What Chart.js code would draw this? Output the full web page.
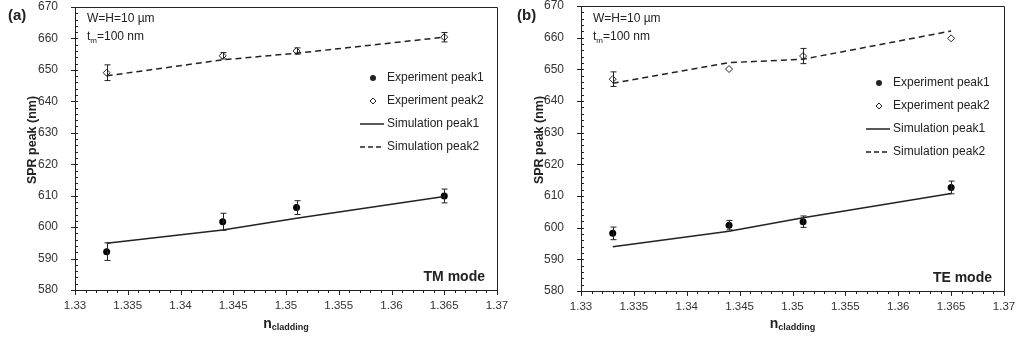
<!DOCTYPE html>
<html>
<head>
<meta charset="utf-8">
<script src="https://cdn.jsdelivr.net/npm/chart.js@4.4.1/dist/chart.umd.min.js"></script>
<style>
  body { margin: 0; background: #fff; }
  .wrap { display: flex; width: 1016px; height: 341px; }
  .panel { width: 508px; height: 341px; }
</style>
</head>
<body>
<div class="wrap">
  <div class="panel"><canvas id="chartTM" width="508" height="341"></canvas></div>
  <div class="panel"><canvas id="chartTE" width="508" height="341"></canvas></div>
</div>
<script>
// data
const nCladding = [1.333, 1.344, 1.351, 1.365];
const yTicks = [580, 590, 600, 610, 620, 630, 640, 650, 660, 670];
const xTicks = [1.33, 1.335, 1.34, 1.345, 1.35, 1.355, 1.36, 1.365, 1.37];

// (a) TM mode
const tmExpPeak1 = [592.2, 601.7, 606.2, 609.9];
const tmExpPeak1Err = [2.8, 2.7, 2.2, 2.2];
const tmExpPeak2 = [649.1, 654.5, 656.0, 660.4];
const tmExpPeak2Err = [2.5, 1.0, 1.0, 1.5];
const tmSimPeak1 = [594.9, 599.1, 602.8, 609.7];
const tmSimPeak2 = [648.1, 653.2, 655.3, 660.4];

// (b) TE mode
const teExpPeak1 = [598.2, 600.8, 601.9, 612.7];
const teExpPeak1Err = [2.0, 1.5, 1.8, 2.0];
const teExpPeak2 = [646.9, 650.1, 654.2, 659.8];
const teExpPeak2Err = [2.3, 0, 2.4, 0];
const teSimPeak1 = [594.0, 598.9, 603.1, 610.8];
const teSimPeak2 = [645.6, 652.1, 653.2, 662.1];

const FONT = "Arial, 'Liberation Sans', sans-serif";
const INK = "#222";

function pts(ys) {
    return nCladding.map((x, i) => ({ x: x, y: ys[i] }));
}

// extra drawing: frame, minor ticks, error bars, notes, legend, titles
const decorPlugin = {
    id: "decor",
    afterDraw(chart, args, opts) {
        const ctx = chart.ctx;
        const a = chart.chartArea;
        const xs = chart.scales.x;
        const ys = chart.scales.y;
        ctx.save();
        ctx.strokeStyle = INK;
        ctx.lineWidth = 1;

        // top + right frame
        ctx.beginPath();
        ctx.moveTo(a.left, a.top + 0.5);
        ctx.lineTo(a.right + 0.5, a.top + 0.5);
        ctx.lineTo(a.right + 0.5, a.bottom);
        ctx.stroke();

        // y ticks (major every 10 crossing the axis, minor every 2 inside)
        for (let v = 580; v <= 670; v += 2) {
            const py = Math.round(ys.getPixelForValue(v)) + 0.5;
            const major = v % 10 === 0;
            ctx.beginPath();
            ctx.moveTo(a.left - (major ? 4 : 0), py);
            ctx.lineTo(a.left + 3, py);
            ctx.stroke();
        }
        // x ticks (major every 0.005, minor every 0.001)
        for (let k = 0; k <= 40; k++) {
            const v = 1.33 + k * 0.001;
            const px = Math.round(xs.getPixelForValue(v)) + 0.5;
            const len = (k % 5 === 0) ? 5 : 3;
            ctx.beginPath();
            ctx.moveTo(px, a.bottom);
            ctx.lineTo(px, a.bottom + len);
            ctx.stroke();
        }

        // error bars
        opts.errors.forEach(e => {
            const ds = chart.data.datasets[e.ds];
            ds.data.forEach((p, i) => {
                const err = e.err[i];
                if (!err) return;
                const px = Math.round(xs.getPixelForValue(p.x)) + 0.5;
                const top = ys.getPixelForValue(p.y + err);
                const bot = ys.getPixelForValue(p.y - err);
                ctx.beginPath();
                ctx.moveTo(px, top);
                ctx.lineTo(px, bot);
                ctx.moveTo(px - 3, top);
                ctx.lineTo(px + 3, top);
                ctx.moveTo(px - 3, bot);
                ctx.lineTo(px + 3, bot);
                ctx.stroke();
            });
        });

        ctx.fillStyle = INK;
        ctx.textBaseline = "middle";

        // panel label
        ctx.font = "bold 15px " + FONT;
        ctx.textAlign = "left";
        ctx.fillText(opts.label, opts.labelX, 16);

        // notes top-left
        ctx.font = "12px " + FONT;
        ctx.fillText("W=H=10 \u00b5m", a.left + 12, 19);
        ctx.fillText("t", a.left + 12, 37);
        const tw = ctx.measureText("t").width;
        ctx.font = "8px " + FONT;
        ctx.fillText("m", a.left + 12 + tw, 41);
        const mw = ctx.measureText("m").width;
        ctx.font = "12px " + FONT;
        ctx.fillText("=100 nm", a.left + 12 + tw + mw, 37);

        // mode text
        ctx.font = "bold 14px " + FONT;
        ctx.textAlign = "right";
        ctx.fillText(opts.mode, a.right - 12, a.bottom - 13);

        // legend
        const lx = opts.legendX;
        ctx.font = "12px " + FONT;
        ctx.textAlign = "left";
        const names = ["Experiment peak1", "Experiment peak2", "Simulation peak1", "Simulation peak2"];
        names.forEach((name, i) => {
            const y = opts.legendY + i * 23;
            ctx.fillStyle = INK;
            if (i === 0) {
                ctx.beginPath();
                ctx.arc(lx - 14, y, 3, 0, Math.PI * 2);
                ctx.fill();
            } else if (i === 1) {
                ctx.beginPath();
                ctx.moveTo(lx - 14, y - 3);
                ctx.lineTo(lx - 11, y);
                ctx.lineTo(lx - 14, y + 3);
                ctx.lineTo(lx - 17, y);
                ctx.closePath();
                ctx.fillStyle = "#fff";
                ctx.fill();
                ctx.stroke();
                ctx.fillStyle = INK;
            } else {
                ctx.lineWidth = 1.5;
                ctx.setLineDash(i === 3 ? [5, 3] : []);
                ctx.beginPath();
                ctx.moveTo(lx - 27, y);
                ctx.lineTo(lx - 3, y);
                ctx.stroke();
                ctx.setLineDash([]);
                ctx.lineWidth = 1;
            }
            ctx.fillText(name, lx, y);
        });

        // y title
        ctx.save();
        ctx.translate(opts.yTitleX, opts.yTitleY);
        ctx.rotate(-Math.PI / 2);
        ctx.textAlign = "center";
        ctx.font = "bold 12.5px " + FONT;
        ctx.fillText("SPR peak (nm)", 0, 0);
        ctx.restore();

        // x title with subscript
        ctx.font = "bold 14px " + FONT;
        const nW = ctx.measureText("n").width;
        ctx.font = "bold 9px " + FONT;
        const sW = ctx.measureText("cladding").width;
        const cx = (a.left + a.right) / 2 - (nW + sW) / 2;
        ctx.textAlign = "left";
        ctx.font = "bold 14px " + FONT;
        ctx.fillText("n", cx, 324);
        ctx.font = "bold 9px " + FONT;
        ctx.fillText("cladding", cx + nW, 328);

        ctx.restore();
    }
};

function makeChart(id, exp1, exp1Err, exp2, exp2Err, sim1, sim2, opts) {
    return new Chart(document.getElementById(id), {
        type: "scatter",
        data: {
            datasets: [
                {
                    label: "Simulation peak1",
                    data: pts(sim1),
                    showLine: true,
                    borderColor: INK,
                    borderWidth: 1.5,
                    pointRadius: 0,
                    tension: 0
                },
                {
                    label: "Simulation peak2",
                    data: pts(sim2),
                    showLine: true,
                    borderColor: INK,
                    borderWidth: 1.5,
                    borderDash: [6, 4],
                    pointRadius: 0,
                    tension: 0
                },
                {
                    label: "Experiment peak1",
                    data: pts(exp1),
                    pointStyle: "circle",
                    pointRadius: 3.5,
                    backgroundColor: "#000",
                    borderColor: "#000",
                    borderWidth: 0
                },
                {
                    label: "Experiment peak2",
                    data: pts(exp2),
                    pointStyle: "rectRot",
                    pointRadius: 3.5,
                    backgroundColor: "#fff",
                    borderColor: INK,
                    borderWidth: 1
                }
            ]
        },
        options: {
            responsive: false,
            animation: false,
            layout: { padding: { top: opts.top, right: opts.right, left: 0, bottom: 0 } },
            plugins: {
                legend: { display: false },
                tooltip: { enabled: false },
                decor: {
                    label: opts.label,
                    labelX: opts.labelX,
                    mode: opts.mode,
                    legendX: opts.legendX,
                    legendY: opts.legendY,
                    yTitleX: opts.yTitleX,
                    yTitleY: opts.yTitleY,
                    errors: [
                        { ds: 2, err: exp1Err },
                        { ds: 3, err: exp2Err }
                    ]
                }
            },
            scales: {
                x: {
                    type: "linear",
                    min: 1.33,
                    max: 1.37,
                    afterBuildTicks: s => { s.ticks = xTicks.map(v => ({ value: v })); },
                    afterFit: s => {
                        s.height = opts.xHeight;
                        s.paddingLeft = 0;
                        s.paddingRight = 0;
                    },
                    grid: { display: false },
                    border: { display: true, color: INK, width: 1 },
                    ticks: {
                        color: "#333",
                        padding: 1,
                        font: { family: FONT, size: 11.5 },
                        callback: v => String(parseFloat(v.toFixed(3)))
                    }
                },
                y: {
                    min: 580,
                    max: 670,
                    afterBuildTicks: s => { s.ticks = yTicks.map(v => ({ value: v })); },
                    afterFit: s => {
                        s.width = opts.yWidth;
                        s.paddingTop = 0;
                        s.paddingBottom = 0;
                    },
                    grid: { display: false },
                    border: { display: true, color: INK, width: 1 },
                    ticks: {
                        color: "#333",
                        padding: 9,
                        font: { family: FONT, size: 12 }
                    }
                }
            }
        },
        plugins: [decorPlugin]
    });
}

makeChart("chartTM", tmExpPeak1, tmExpPeak1Err, tmExpPeak2, tmExpPeak2Err, tmSimPeak1, tmSimPeak2, {
    label: "(a)", labelX: 8, mode: "TM mode",
    legendX: 387, legendY: 78, yTitleX: 33, yTitleY: 140,
    top: 7, right: 11, xHeight: 51, yWidth: 75
});

makeChart("chartTE", teExpPeak1, teExpPeak1Err, teExpPeak2, teExpPeak2Err, teSimPeak1, teSimPeak2, {
    label: "(b)", labelX: 9, mode: "TE mode",
    legendX: 385, legendY: 83, yTitleX: 32, yTitleY: 140,
    top: 6, right: 12, xHeight: 50, yWidth: 73
});
</script>
</body>
</html>
